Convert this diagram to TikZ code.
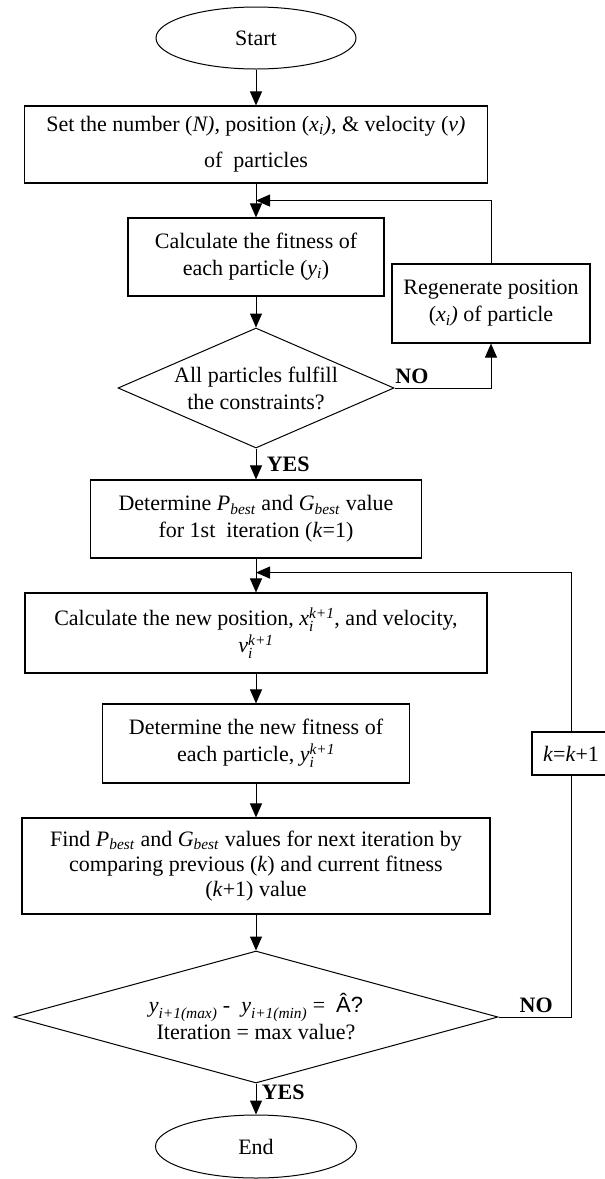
\documentclass[tikz,border=0pt]{standalone}
\usepackage{amsmath}
\usepackage{fontspec}
\setmainfont{Liberation Serif}
\newfontfamily\arialfont{Liberation Sans}
\usepackage{tikz}
\usetikzlibrary{shapes, arrows.meta, positioning}

\begin{document}
\begin{tikzpicture}[node distance=110pt, auto,
    font=\fontsize{22}{27}\selectfont,
    block/.style={rectangle, draw, line width=1.1pt, align=center, inner sep=4pt},
    decision/.style={diamond, draw, line width=1pt, align=center, inner sep=0pt},
    terminal/.style={ellipse, draw, line width=1pt, minimum width=200pt, minimum height=62pt},
    line/.style={draw, line width=1pt},
    arrow/.style={-{Triangle[length=14pt, width=12pt]}, line width=1pt}]

\useasboundingbox (0,0) rectangle (605pt,-1179pt);

% Nodes
\node [terminal] (start) at (256pt,-38pt) {Start};
\node [block, minimum width=463pt, minimum height=77pt, node distance=106.5pt, below of=start] (set)
    {Set the number (\textit{N)}, position (\textit{x}\textsubscript{\textit{i}}\textit{)}, \& velocity (\textit{v)}\\[9pt] of \ particles};
\node [block, minimum width=256pt, minimum height=78pt, node distance=112.5pt, below of=set] (calc)
    {Calculate the fitness of\\ each particle (\textit{y}\textsubscript{\textit{i}})};
\node [decision, minimum width=276pt, minimum height=120pt, aspect=2.3, node distance=131pt, below of=calc] (cons)
    {All particles fulfill\\ the constraints?};
\node [block, minimum width=198pt, minimum height=79pt, node distance=235pt, right of=calc, yshift=-46.5pt] (regen)
    {Regenerate position\\ (\textit{x}\textsubscript{\textit{i}}\textit{)} of particle};
\node [block, minimum width=331pt, minimum height=78pt, node distance=131pt, below of=cons] (init)
    {Determine \textit{P}\textsubscript{\textit{best}} and \textit{G}\textsubscript{\textit{best}} value\\ for 1st \ iteration (\textit{k}=1)};
\node [block, minimum width=462pt, minimum height=80pt, node distance=114pt, below of=init] (newpos)
    {Calculate the new position, $\textit{x}_{\textit{i}}^{\textit{k+1}}$, and velocity,\\ $\textit{v}_{\textit{i}}^{\textit{k+1}}$};
\node [block, minimum width=307pt, minimum height=79pt, node distance=110.5pt, below of=newpos] (newfit)
    {Determine the new fitness of\\ each particle, $\textit{y}_{\textit{i}}^{\textit{k+1}}$};
\node [block, minimum width=78pt, minimum height=43pt, inner sep=2pt, node distance=315pt, right of=newfit, yshift=-10pt] (kinc)
    {\textit{k}=\textit{k}+1};
\node [block, minimum width=468pt, minimum height=96pt, node distance=122.5pt, below of=newfit] (update)
    {Find \textit{P}\textsubscript{\textit{best}} and \textit{G}\textsubscript{\textit{best}} values for next iteration by\\[-2pt] comparing previous (\textit{k}) and current fitness\\[-2pt] (\textit{k}+1) value};
\node [decision, minimum width=484pt, minimum height=132pt, aspect=3.6, node distance=151pt, below of=update] (stop)
    {$\textit{y}_{\textit{i+1(max)}}$ - \ $\textit{y}_{\textit{i+1(min)}}$ = \ {\arialfont Â?}\\ Iteration = max value?};
\node [terminal, minimum width=201pt, minimum height=63pt, node distance=129.5pt, below of=stop] (end) {End};

% Loop-back points
\coordinate [below=17pt of set.south] (fb);
\coordinate [below=14pt of init.south] (lp);

% Main flow
\draw [arrow] (start) -- (set);
\draw [arrow] (set) -- (calc);
\draw [arrow] (calc) -- (cons);
\draw [arrow] (cons) -- node [right=7pt] {\textbf{YES}} (init);
\draw [arrow] (init) -- (newpos);
\draw [arrow] (newpos) -- (newfit);
\draw [arrow] (newfit) -- (update);
\draw [arrow] (update) -- (stop);
\draw [arrow] (stop) -- node [pos=0.3, right=2pt] {\textbf{YES}} (end);

% Feedback
\draw [arrow] (cons.east) -| node [pos=0.09, above] {\textbf{NO}} (regen.south);
\draw [arrow] (regen.north) |- (fb);
\draw [line] (stop.east) -| node [pos=0.26, above] {\textbf{NO}} (kinc.south);
\draw [arrow] (kinc.north) |- (lp);

\end{tikzpicture}
\end{document}
